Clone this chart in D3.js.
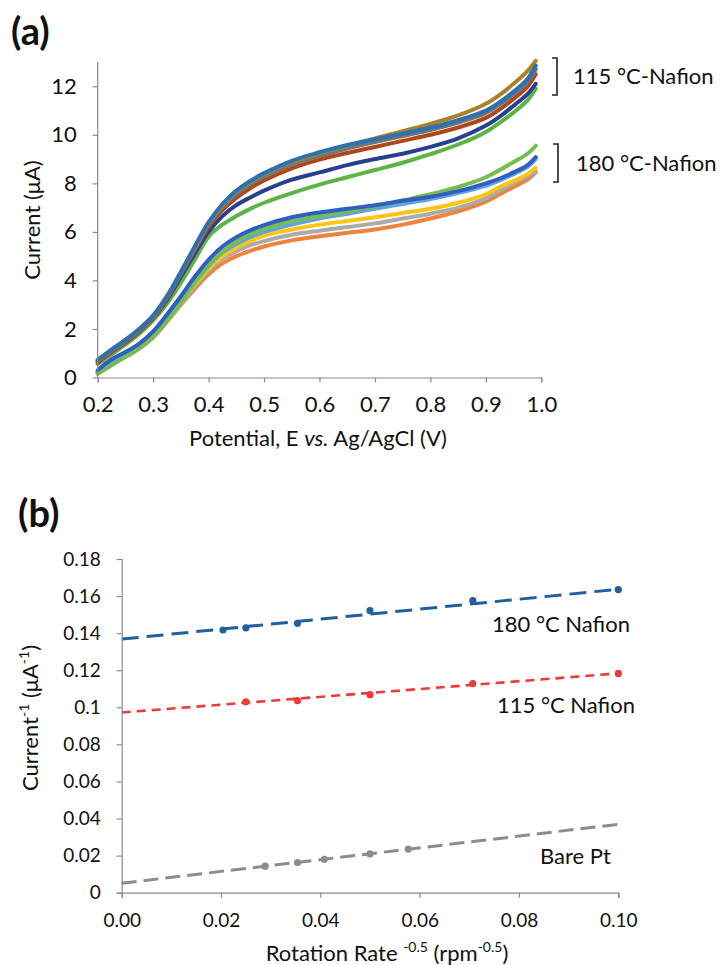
<!DOCTYPE html>
<html>
<head>
<meta charset="utf-8">
<script src="https://cdn.jsdelivr.net/npm/d3@7/dist/d3.min.js"></script>
<style>
  html, body { margin: 0; padding: 0; background: #fff; }
  svg { display: block; }
  text { font-family: Lato, "Open Sans", "Noto Sans", sans-serif; fill: #111; }
</style>
</head>
<body>
<svg id="chart" width="723" height="965"></svg>
<script>
// ---------- Panel (a): RDE polarisation curves ----------
const potentials = [0.2, 0.225, 0.25, 0.275, 0.3, 0.325, 0.35, 0.375, 0.4, 0.425, 0.45, 0.475,
                    0.5, 0.55, 0.6, 0.65, 0.7, 0.75, 0.8, 0.85, 0.9, 0.925, 0.95, 0.975, 0.99];

// 180 °C-annealed Nafion films (µA)
const n180Orange = [0.2, 0.55, 0.85, 1.2, 1.65, 2.3, 3.0, 3.65, 4.25, 4.7, 5.0, 5.22,
                    5.4, 5.65, 5.82, 5.96, 6.1, 6.3, 6.55, 6.85, 7.25, 7.55, 7.85, 8.15, 8.45];
const n180Gray   = [0.2, 0.55, 0.85, 1.2, 1.7, 2.35, 3.05, 3.75, 4.4, 4.9, 5.2, 5.45,
                    5.62, 5.88, 6.05, 6.2, 6.35, 6.55, 6.75, 7.0, 7.38, 7.7, 8.0, 8.28, 8.5];
const n180Yellow = [0.2, 0.6, 0.9, 1.25, 1.75, 2.4, 3.1, 3.85, 4.5, 5.0, 5.35, 5.62,
                    5.85, 6.1, 6.3, 6.45, 6.6, 6.78, 6.95, 7.2, 7.55, 7.85, 8.1, 8.38, 8.65];
const n180Sky    = [0.25, 0.65, 0.95, 1.3, 1.8, 2.45, 3.2, 3.95, 4.6, 5.15, 5.5, 5.78,
                    6.0, 6.3, 6.55, 6.75, 6.95, 7.15, 7.35, 7.6, 7.9, 8.12, 8.38, 8.68, 9.0];
const n180Green  = [0.15, 0.5, 0.85, 1.2, 1.7, 2.35, 3.1, 3.9, 4.6, 5.2, 5.6, 5.9,
                    6.12, 6.45, 6.65, 6.85, 7.05, 7.3, 7.55, 7.85, 8.25, 8.55, 8.88, 9.22, 9.55];
const n180Blue   = [0.3, 0.75, 1.05, 1.4, 1.9, 2.6, 3.35, 4.15, 4.85, 5.4, 5.78, 6.06,
                    6.28, 6.6, 6.8, 6.95, 7.1, 7.28, 7.45, 7.68, 8.0, 8.2, 8.45, 8.75, 9.08];

// 115 °C-annealed Nafion films (µA)
const n115Green  = [0.55, 0.95, 1.35, 1.8, 2.35, 3.05, 3.9, 4.85, 5.8, 6.3, 6.65, 6.95,
                    7.2, 7.6, 7.95, 8.25, 8.55, 8.85, 9.2, 9.6, 10.12, 10.5, 10.92, 11.42, 11.9];
const n115Navy   = [0.65, 1.05, 1.45, 1.9, 2.45, 3.2, 4.15, 5.1, 6.0, 6.65, 7.1, 7.42,
                    7.7, 8.15, 8.45, 8.75, 9.0, 9.22, 9.5, 9.85, 10.38, 10.75, 11.2, 11.68, 12.1];
const n115Brown  = [0.6, 1.05, 1.45, 1.9, 2.45, 3.25, 4.25, 5.25, 6.2, 6.9, 7.4, 7.8,
                    8.12, 8.62, 8.98, 9.25, 9.5, 9.75, 10.0, 10.3, 10.7, 11.05, 11.48, 11.98, 12.5];
const n115Gray   = [0.7, 1.1, 1.5, 1.95, 2.5, 3.3, 4.3, 5.3, 6.3, 7.0, 7.55, 7.95,
                    8.28, 8.78, 9.13, 9.43, 9.7, 9.95, 10.2, 10.5, 10.9, 11.25, 11.68, 12.18, 12.7];
const n115Gold   = [0.75, 1.15, 1.55, 2.0, 2.55, 3.35, 4.35, 5.35, 6.35, 7.1, 7.65, 8.05,
                    8.38, 8.88, 9.23, 9.55, 9.85, 10.15, 10.45, 10.8, 11.28, 11.65, 12.1, 12.62, 13.05];
const n115Blue   = [0.7, 1.15, 1.55, 2.0, 2.55, 3.35, 4.35, 5.4, 6.4, 7.15, 7.7, 8.1,
                    8.42, 8.93, 9.28, 9.58, 9.82, 10.05, 10.3, 10.6, 11.0, 11.35, 11.78, 12.3, 12.85];

const potentialTicks = [0.2, 0.3, 0.4, 0.5, 0.6, 0.7, 0.8, 0.9, 1.0];
const currentTicks = [0, 2, 4, 6, 8, 10, 12];

// ---------- Panel (b): Koutecky-Levich plot ----------
const klX180  = [0.0204, 0.025, 0.0354, 0.05, 0.0707, 0.1];
const klY180  = [0.1417, 0.1429, 0.1453, 0.1521, 0.1576, 0.1635];
const klX115  = [0.025, 0.0354, 0.05, 0.0707, 0.1];
const klY115  = [0.1030, 0.1036, 0.1068, 0.1128, 0.1183];
const klXBare = [0.0289, 0.0354, 0.0408, 0.05, 0.0577];
const klYBare = [0.0143, 0.0163, 0.0180, 0.0209, 0.0235];

// linear trendline end points [x0, x1] / [y0, y1]
const trendX    = [0, 0.1];
const trend180  = [0.1368, 0.1637];
const trend115  = [0.0972, 0.1183];
const trendBare = [0.0051, 0.0369];

const rateTicks = [0, 0.02, 0.04, 0.06, 0.08, 0.10];
const invTicks  = [0, 0.02, 0.04, 0.06, 0.08, 0.1, 0.12, 0.14, 0.16, 0.18];

// ---------- drawing ----------
const svg = d3.select("#chart");
const axisColor = "#8a8a8a";

function styleAxis(g) {
  g.select(".domain").attr("stroke", axisColor).attr("stroke-width", 1.2);
  g.selectAll(".tick line").attr("stroke", axisColor).attr("stroke-width", 1.2);
  g.selectAll(".tick text").attr("fill", "#111");
}

// Panel (a)
const ax = d3.scaleLinear().domain([0.2, 1.0]).range([97.7, 541.3]);
const ay = d3.scaleLinear().domain([0, 13]).range([377.5, 62]);

const seriesA = [
  { v: n180Orange, c: "#f0823c" },
  { v: n180Gray,   c: "#ababab" },
  { v: n180Yellow, c: "#ffc512" },
  { v: n180Sky,    c: "#62a3dc" },
  { v: n180Green,  c: "#74bd4f" },
  { v: n180Blue,   c: "#2f5fc0" },
  { v: n115Green,  c: "#5cb444" },
  { v: n115Navy,   c: "#283f92" },
  { v: n115Brown,  c: "#b0471c" },
  { v: n115Gray,   c: "#6f7477" },
  { v: n115Gold,   c: "#ad8224" },
  { v: n115Blue,   c: "#2b71b4" }
];

const lineA = d3.line()
  .x(d => ax(d[0]))
  .y(d => ay(d[1]))
  .curve(d3.curveCatmullRom.alpha(0.5));

svg.append("g").selectAll("path")
  .data(seriesA)
  .join("path")
  .attr("d", s => lineA(potentials.map((p, i) => [p, s.v[i]])))
  .attr("fill", "none")
  .attr("stroke", s => s.c)
  .attr("stroke-width", 4)
  .attr("stroke-linecap", "round")
  .attr("stroke-linejoin", "round");

const axA = svg.append("g")
  .attr("transform", `translate(0,${ay(0)})`)
  .call(d3.axisBottom(ax).tickValues(potentialTicks).tickFormat(d3.format(".1f"))
        .tickSizeOuter(0).tickSize(5).tickPadding(14));
axA.selectAll("text").attr("font-size", 22);
styleAxis(axA);

const ayA = svg.append("g")
  .attr("transform", `translate(${ax(0.2)},0)`)
  .call(d3.axisLeft(ay).tickValues(currentTicks).tickFormat(d3.format("d"))
        .tickSizeOuter(0).tickSize(5).tickPadding(16));
ayA.selectAll("text").attr("font-size", 22);
ayA.select(".domain").attr("d", `M0,${ay(0)}V${ay(13)}`);
styleAxis(ayA);

// axis titles (a)
const xtA = svg.append("text")
  .attr("x", 318).attr("y", 446)
  .attr("text-anchor", "middle").attr("font-size", 22);
xtA.append("tspan").text("Potential, E ");
xtA.append("tspan").attr("font-style", "italic").text("vs.");
xtA.append("tspan").text(" Ag/AgCl (V)");

svg.append("text")
  .attr("transform", "translate(40,220) rotate(-90)")
  .attr("text-anchor", "middle").attr("font-size", 22)
  .text("Current (μA)");

// group brackets (a)
function bracket(x, y0, y1) {
  svg.append("path")
    .attr("d", `M${x - 5},${y0}H${x}V${y1}H${x - 5}`)
    .attr("fill", "none").attr("stroke", "#222").attr("stroke-width", 1.6);
}
bracket(557, 58, 95);
bracket(558, 144, 182);
svg.append("text").attr("x", 573).attr("y", 84).attr("font-size", 22).text("115 °C-Nafion");
svg.append("text").attr("x", 576).attr("y", 171).attr("font-size", 22).text("180 °C-Nafion");

svg.append("text").attr("x", 11).attr("y", 45)
  .attr("font-size", 38).attr("font-weight", "bold").text("(a)");

// Panel (b)
const bx = d3.scaleLinear().domain([0, 0.1]).range([121.7, 618.3]);
const by = d3.scaleLinear().domain([0, 0.18]).range([892.7, 559]);

const trendLine = d3.line().x(d => bx(d[0])).y(d => by(d[1]));

const seriesB = [
  { xs: klXBare, ys: klYBare, t: trendBare, c: "#8c8c8c", dash: "15,7", w: 3 },
  { xs: klX115,  ys: klY115,  t: trend115,  c: "#ee3a3a", dash: "9,6",  w: 2.6 },
  { xs: klX180,  ys: klY180,  t: trend180,  c: "#20609f", dash: "17,8", w: 3 }
];

seriesB.forEach(s => {
  svg.append("path")
    .attr("d", trendLine(trendX.map((x, i) => [x, s.t[i]])))
    .attr("fill", "none").attr("stroke", s.c)
    .attr("stroke-width", s.w).attr("stroke-dasharray", s.dash);
  svg.append("g").selectAll("circle")
    .data(s.xs.map((x, i) => [x, s.ys[i]]))
    .join("circle")
    .attr("cx", d => bx(d[0])).attr("cy", d => by(d[1]))
    .attr("r", 3.6).attr("fill", s.c);
});

const axB = svg.append("g")
  .attr("transform", `translate(0,${by(0)})`)
  .call(d3.axisBottom(bx).tickValues(rateTicks).tickFormat(d3.format(".2f"))
        .tickSizeOuter(0).tickSize(5).tickPadding(16));
axB.selectAll("text").attr("font-size", 19);
styleAxis(axB);

const ayB = svg.append("g")
  .attr("transform", `translate(${bx(0)},0)`)
  .call(d3.axisLeft(by).tickValues(invTicks).tickFormat(d => d === 0 ? "0" : String(+d.toFixed(2)))
        .tickSizeOuter(0).tickSize(5).tickPadding(16));
ayB.selectAll("text").attr("font-size", 19);
styleAxis(ayB);

// axis titles (b)
const xtB = svg.append("text")
  .attr("x", 387).attr("y", 961)
  .attr("text-anchor", "middle").attr("font-size", 22);
xtB.append("tspan").text("Rotation Rate ");
xtB.append("tspan").attr("font-size", 14).attr("dy", -9).text("-0.5");
xtB.append("tspan").attr("dy", 9).text(" (rpm");
xtB.append("tspan").attr("font-size", 14).attr("dy", -9).text("-0.5");
xtB.append("tspan").attr("dy", 9).text(")");

const ytB = svg.append("text")
  .attr("transform", "translate(38,718) rotate(-90)")
  .attr("text-anchor", "middle").attr("font-size", 22);
ytB.append("tspan").text("Current");
ytB.append("tspan").attr("font-size", 14).attr("dy", -9).text("-1");
ytB.append("tspan").attr("dy", 9).text(" (μA");
ytB.append("tspan").attr("font-size", 14).attr("dy", -9).text("-1");
ytB.append("tspan").attr("dy", 9).text(")");

svg.append("text").attr("x", 492).attr("y", 632).attr("font-size", 22).text("180 °C Nafion");
svg.append("text").attr("x", 497).attr("y", 713).attr("font-size", 22).text("115 °C Nafion");
svg.append("text").attr("x", 540).attr("y", 864).attr("font-size", 22).text("Bare Pt");

svg.append("text").attr("x", 18).attr("y", 527)
  .attr("font-size", 38).attr("font-weight", "bold").text("(b)");
</script>
</body>
</html>
